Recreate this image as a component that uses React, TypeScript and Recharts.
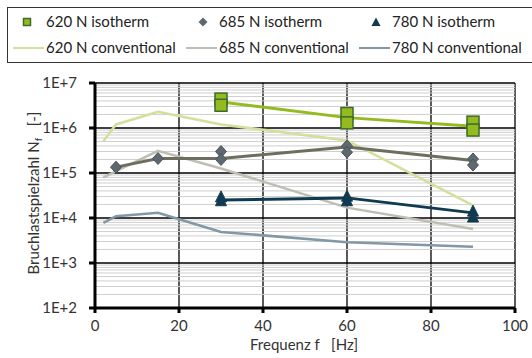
import React from 'react';
import { ComposedChart, Line, Scatter, XAxis, YAxis, CartesianGrid, ReferenceLine } from 'recharts';

// conventional tests (lines only)
const conv620Freq = [2, 5, 15, 30, 60, 90];
const conv620Cycles = [5.1e5, 1.2e6, 2.3e6, 1.2e6, 5.3e5, 1.9e4];
const conv685Freq = [2, 15, 30, 60, 90];
const conv685Cycles = [8e4, 3.1e5, 1.26e5, 1.7e4, 5.7e3];
const conv780Freq = [2, 5, 15, 30, 60, 90];
const conv780Cycles = [7.8e3, 1.1e4, 1.3e4, 4.9e3, 2.9e3, 2.3e3];

// isotherm tests: mean line + single specimens
const iso620LineFreq = [30, 60, 90];
const iso620LineCycles = [3.8e6, 1.7e6, 1.1e6];
const iso620PtFreq = [30, 30, 60, 60, 90, 90];
const iso620PtCycles = [4.4e6, 3.2e6, 2.1e6, 1.3e6, 1.35e6, 9e5];

const iso685LineFreq = [5, 15, 30, 60, 90];
const iso685LineCycles = [1.35e5, 2.1e5, 2.1e5, 3.8e5, 1.9e5];
const iso685PtFreq = [5, 15, 30, 30, 60, 60, 90, 90];
const iso685PtCycles = [1.35e5, 2.1e5, 3e5, 2e5, 4e5, 2.9e5, 2.05e5, 1.5e5];

const iso780LineFreq = [30, 60, 90];
const iso780LineCycles = [2.5e4, 2.8e4, 1.3e4];
const iso780PtFreq = [30, 30, 60, 60, 90, 90];
const iso780PtCycles = [2.8e4, 2.3e4, 2.9e4, 2.3e4, 1.35e4, 1.0e4];

const xTicks = [0, 20, 40, 60, 80, 100];
const yTicks = [1e2, 1e3, 1e4, 1e5, 1e6, 1e7];
const minorTicks: number[] = [];
[1e2, 1e3, 1e4, 1e5, 1e6].forEach(d => {
  for (let k = 2; k <= 9; k++) minorTicks.push(d * k);
});

const zip = (f: number[], n: number[]) => f.map((x, i) => ({ f: x, n: n[i] }));

const C620 = '#93bb1f';
const C620c = '#d3df9a';
const C685 = '#6e6e5f';
const C685m = '#5d6870';
const C685c = '#c0bdb2';
const C780 = '#0f3a52';
const C780c = '#8198a6';

const FONT = 'Lato, "Open Sans", sans-serif';

const squareShape = (p: any) => (
  <rect x={p.cx - 6} y={p.cy - 6} width={12} height={12} fill={C620} stroke="#3e6a2c" strokeWidth={1.5} />
);
const diamondShape = (p: any) => (
  <path d={`M${p.cx},${p.cy - 6} L${p.cx + 5.5},${p.cy} L${p.cx},${p.cy + 6} L${p.cx - 5.5},${p.cy} Z`} fill={C685m} stroke="#4a545c" strokeWidth={1} />
);
const triShape = (p: any) => (
  <path d={`M${p.cx},${p.cy - 7} L${p.cx + 5.5},${p.cy + 4} L${p.cx - 5.5},${p.cy + 4} Z`} fill={C780} stroke={C780} strokeWidth={1} />
);

function LegendBox() {
  const text: React.CSSProperties = { position: 'absolute', fontSize: 15, color: '#222', fontFamily: FONT, lineHeight: '18px', whiteSpace: 'nowrap' };
  const lineIcon = (left: number, top: number, color: string) => (
    <div style={{ position: 'absolute', left, top, width: 31, height: 2, background: color }} />
  );
  return (
    <div style={{ position: 'absolute', left: 7, top: 7, width: 530, height: 54, border: '1px solid #333', background: '#fff' }}>
      <svg width={530} height={54} style={{ position: 'absolute', left: 0, top: 0 }}>
        <rect x={15.5} y={10.5} width={7} height={7} fill={C620} stroke="#3e6a2c" strokeWidth={1.5} />
        <path d="M195,9.5 L199.5,14 L195,18.5 L190.5,14 Z" fill={C685m} />
        <path d="M368,9.5 L372.5,18 L363.5,18 Z" fill={C780} />
      </svg>
      <div style={{ ...text, left: 38, top: 4 }}>620 N isotherm</div>
      <div style={{ ...text, left: 211, top: 4 }}>685 N isotherm</div>
      <div style={{ ...text, left: 384, top: 4 }}>780 N isotherm</div>
      {lineIcon(5, 39, C620c)}
      <div style={{ ...text, left: 38, top: 30 }}>620 N conventional</div>
      {lineIcon(178, 39, C685c)}
      <div style={{ ...text, left: 211, top: 30 }}>685 N conventional</div>
      {lineIcon(351, 39, C780c)}
      <div style={{ ...text, left: 384, top: 30 }}>780 N conventional</div>
    </div>
  );
}

export default function App() {
  return (
    <div style={{ position: 'absolute', left: 0, top: 0, width: 532, height: 358, background: '#fff', fontFamily: FONT, overflow: 'hidden' }}>
      <ComposedChart width={532} height={358} margin={{ top: 83, right: 17, bottom: 20, left: 0 }}>
        {minorTicks.map(v => (
          <ReferenceLine key={v} y={v} stroke="#cfcfcf" strokeWidth={1} ifOverflow="hidden" />
        ))}
        <CartesianGrid stroke="#000" strokeWidth={1.3} />
        <XAxis
          type="number"
          dataKey="f"
          domain={[0, 100]}
          ticks={xTicks}
          allowDataOverflow
          height={30}
          axisLine={{ stroke: '#000', strokeWidth: 3 }}
          tickLine={{ stroke: '#000', strokeWidth: 3 }}
          tickSize={5}
          tickMargin={7}
          tick={{ fontSize: 15, fill: '#333', fontFamily: FONT }}
        />
        <YAxis
          type="number"
          dataKey="n"
          scale="log"
          domain={[1e2, 1e7]}
          ticks={yTicks}
          allowDataOverflow
          width={95}
          axisLine={{ stroke: '#000', strokeWidth: 3 }}
          tickLine={{ stroke: '#000', strokeWidth: 3 }}
          tickSize={6}
          tickMargin={12}
          tick={{ fontSize: 15, fill: '#333', fontFamily: FONT }}
          tickFormatter={(v: number) => `1E+${Math.round(Math.log10(v))}`}
        />
        <Line data={zip(conv620Freq, conv620Cycles)} dataKey="n" stroke={C620c} strokeWidth={2.5} dot={false} isAnimationActive={false} />
        <Line data={zip(conv685Freq, conv685Cycles)} dataKey="n" stroke={C685c} strokeWidth={2.5} dot={false} isAnimationActive={false} />
        <Line data={zip(conv780Freq, conv780Cycles)} dataKey="n" stroke={C780c} strokeWidth={2.5} dot={false} isAnimationActive={false} />
        <Line data={zip(iso620LineFreq, iso620LineCycles)} dataKey="n" stroke={C620} strokeWidth={3} dot={false} isAnimationActive={false} />
        <Line data={zip(iso685LineFreq, iso685LineCycles)} dataKey="n" stroke={C685} strokeWidth={3} dot={false} isAnimationActive={false} />
        <Line data={zip(iso780LineFreq, iso780LineCycles)} dataKey="n" stroke={C780} strokeWidth={3} dot={false} isAnimationActive={false} />
        <Scatter data={zip(iso620PtFreq, iso620PtCycles)} dataKey="n" shape={squareShape} isAnimationActive={false} />
        <Scatter data={zip(iso685PtFreq, iso685PtCycles)} dataKey="n" shape={diamondShape} isAnimationActive={false} />
        <Scatter data={zip(iso780PtFreq, iso780PtCycles)} dataKey="n" shape={triShape} isAnimationActive={false} />
        <text x={304} y={350} textAnchor="middle" fontSize={15} fill="#333" fontFamily={FONT} xmlSpace="preserve">
          Frequenz f   [Hz]
        </text>
        <text transform="translate(39,193) rotate(-90)" textAnchor="middle" fontSize={15} fill="#333" fontFamily={FONT} xmlSpace="preserve">
          Bruchlastspielzahl N<tspan fontSize={10} dy={3}>f</tspan>
          <tspan dy={-3}>   [-]</tspan>
        </text>
      </ComposedChart>
      <LegendBox />
    </div>
  );
}
